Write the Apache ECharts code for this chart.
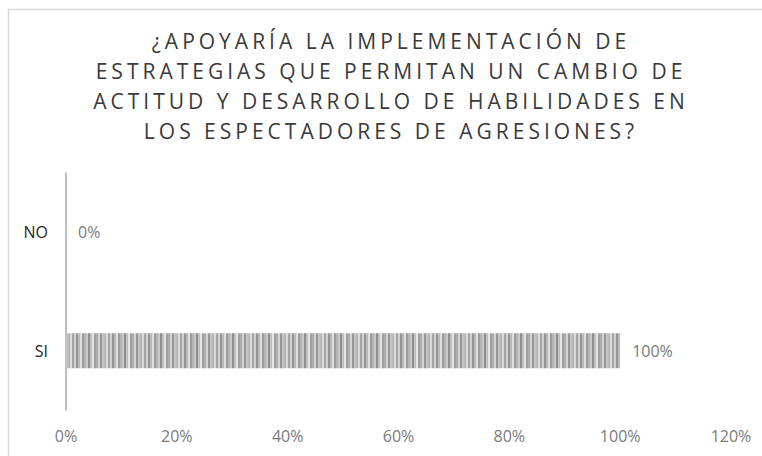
<!DOCTYPE html>
<html>
<head>
<meta charset="utf-8">
<script src="https://cdn.jsdelivr.net/npm/echarts@6/dist/echarts.min.js"></script>
<style>
html,body{margin:0;padding:0;background:#fff;}
#chart{width:762px;height:456px;}
</style>
</head>
<body>
<div id="chart"></div>
<script>
const titleLines = [
  '¿APOYARÍA LA IMPLEMENTACIÓN DE',
  'ESTRATEGIAS QUE PERMITAN UN CAMBIO DE',
  'ACTITUD Y DESARROLLO DE HABILIDADES EN',
  'LOS ESPECTADORES DE AGRESIONES?'
];
const categories = ['SI', 'NO'];
const values = [1.0, 0.0];
const xTicks = { min: 0, max: 1.2, interval: 0.2 };

// striped fill pattern (style only)
const stripeShades = ['#a4a4a4','#cfcfcf','#959595','#b9b9b9','#dedede','#9c9c9c','#b2b2b2','#c8c8c8','#8e8e8e','#c0c0c0','#e4e4e4','#a0a0a0','#acacac','#d4d4d4','#979797','#c4c4c4','#b6b6b6','#dadada'];
const pc = document.createElement('canvas');
pc.width = stripeShades.length * 2; pc.height = 4;
const pctx = pc.getContext('2d');
stripeShades.forEach((c, i) => { pctx.fillStyle = c; pctx.fillRect(i * 2, 0, 2, 4); });
const patternURL = pc.toDataURL();

const chart = echarts.init(document.getElementById('chart'), null, { renderer: 'svg' });
const pct = v => Math.round(v * 100) + '%';
chart.setOption({
  animation: false,
  backgroundColor: '#fff',
  graphic: [{
    type: 'rect', silent: true,
    shape: { x: 8.5, y: 9.5, width: 800, height: 500 },
    style: { fill: 'none', stroke: '#d9d9d9', lineWidth: 1.5 }
  }],
  title: {
    text: titleLines.join('\n'),
    left: 386,
    textAlign: 'center',
    top: 21,
    textStyle: {
      fontFamily: 'Open Sans',
      fontWeight: 'normal',
      fontSize: 21,
      lineHeight: 30,
      color: '#3a3a3a'
    }
  },
  grid: { left: 66, right: 31, top: 173, bottom: 46, containLabel: false },
  xAxis: {
    type: 'value',
    min: xTicks.min, max: xTicks.max, interval: xTicks.interval,
    axisLine: { show: false },
    axisTick: { show: false },
    splitLine: { show: false },
    axisLabel: {
      formatter: pct,
      color: '#7a7a7a',
      fontFamily: 'Open Sans',
      fontSize: 16,
      margin: 18
    }
  },
  yAxis: {
    type: 'category',
    data: categories,
    axisLine: { show: true, lineStyle: { color: '#bfbfbf', width: 2 } },
    axisTick: { show: false },
    axisLabel: {
      color: '#262626',
      fontFamily: 'Open Sans',
      fontWeight: 'normal',
      fontSize: 16,
      margin: 18
    }
  },
  series: [{
    type: 'bar',
    data: values,
    barWidth: 35,
    itemStyle: { color: { image: patternURL, repeat: 'repeat' } },
    label: {
      show: true,
      position: 'right',
      distance: 12,
      formatter: p => pct(p.value),
      color: '#7a7a7a',
      fontFamily: 'Open Sans',
      fontSize: 16
    }
  }]
});

function spaceTitle() {
  document.querySelectorAll('#chart svg text').forEach(t => {
    if (titleLines.indexOf(t.textContent) >= 0) t.setAttribute('letter-spacing', '4');
  });
}
spaceTitle();
chart.on('finished', spaceTitle);
</script>
</body>
</html>
